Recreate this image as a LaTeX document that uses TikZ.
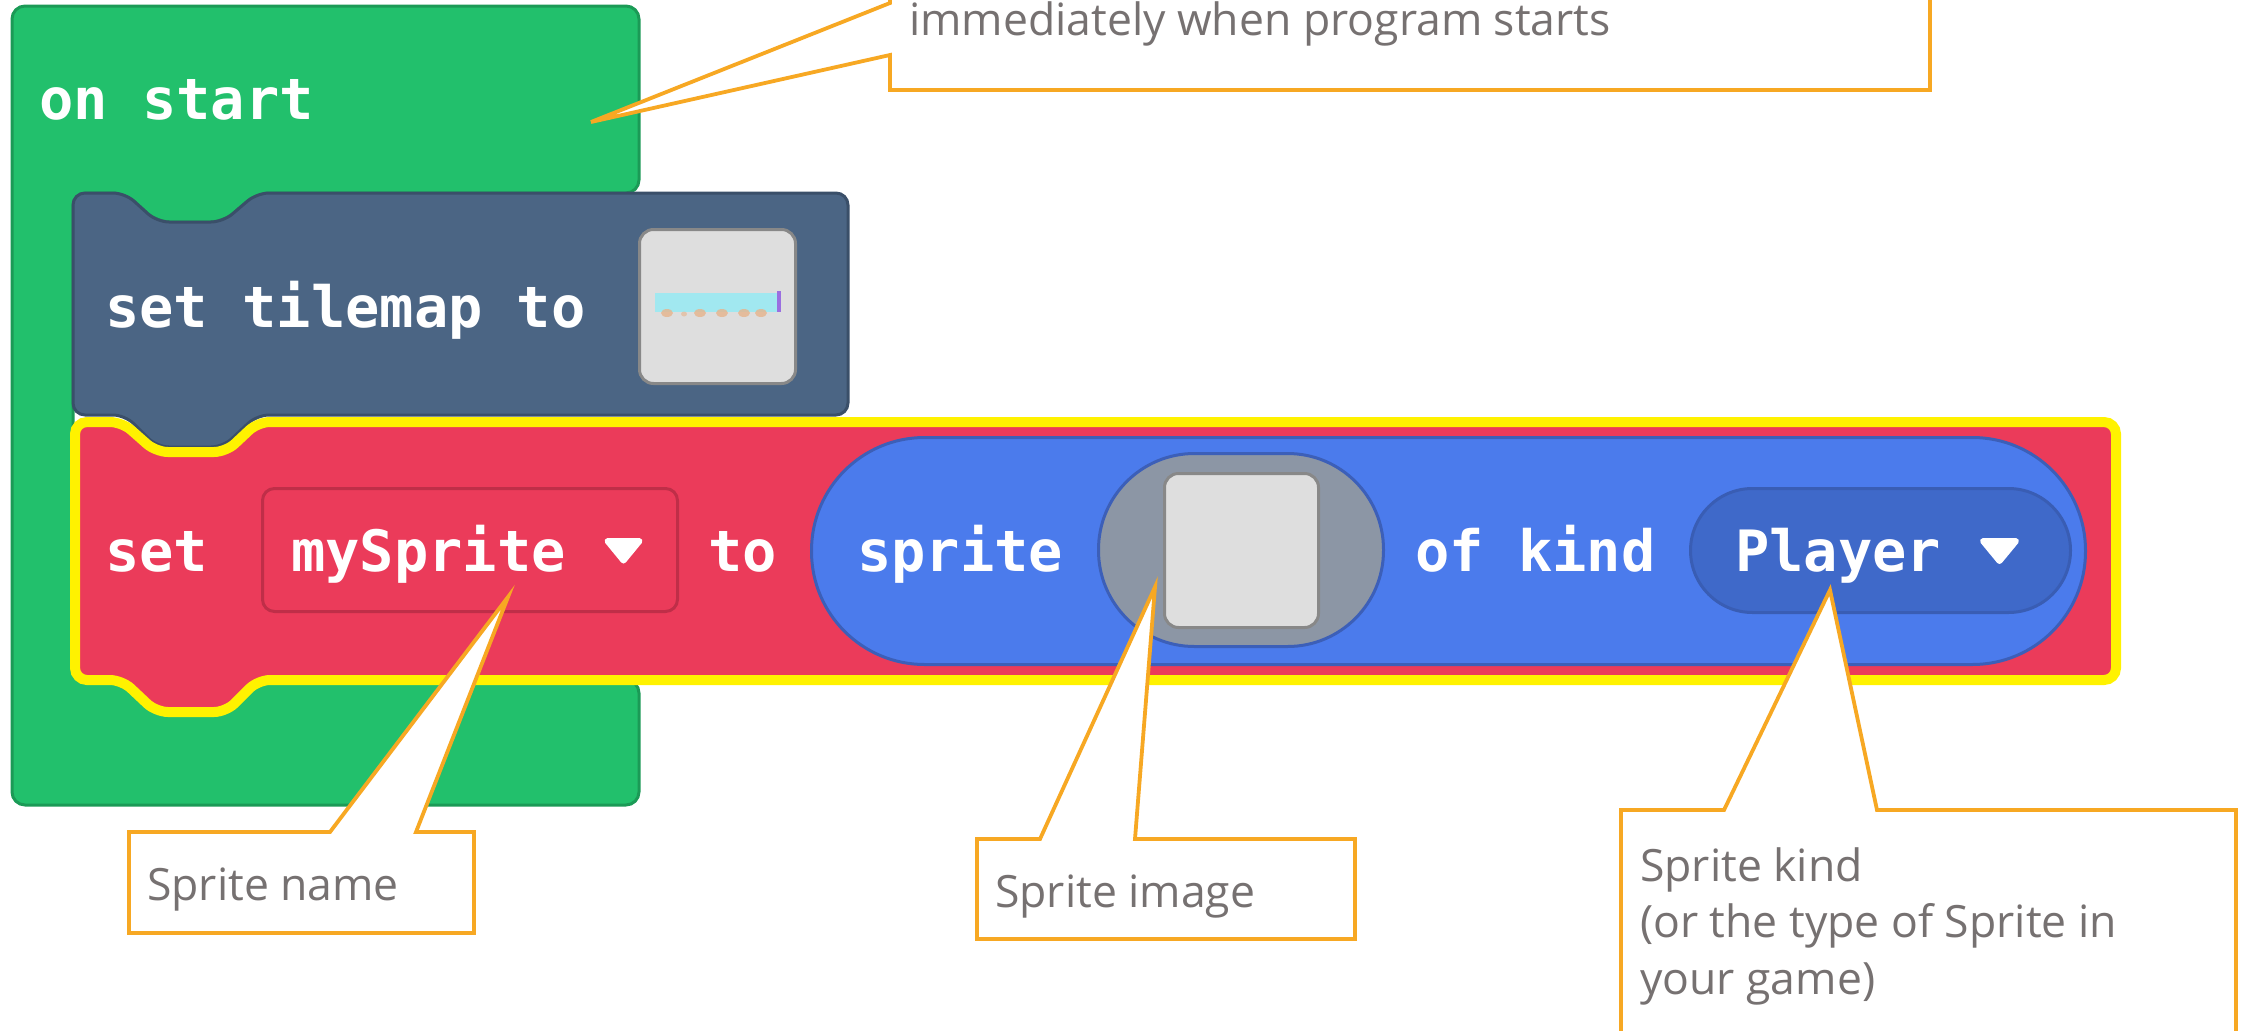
\documentclass[tikz,border=0pt]{standalone}
\usepackage{fontspec}
\setmainfont{Open Sans}
\newfontfamily\blockfont{DejaVu Sans Mono}
\newfontfamily\notefont{Open Sans}

\definecolor{startgreen}{HTML}{22C06C}
\definecolor{startgreenedge}{HTML}{1B9A56}
\definecolor{scenedark}{HTML}{4B6584}
\definecolor{scenedarkedge}{HTML}{3A4F69}
\definecolor{varred}{HTML}{EB3B5A}
\definecolor{varrededge}{HTML}{BF2E48}
\definecolor{selyellow}{HTML}{FFF200}
\definecolor{spriteblue}{HTML}{4B7BEC}
\definecolor{spriteblueedge}{HTML}{3C5FB8}
\definecolor{kindblue}{HTML}{3F69C9}
\definecolor{kindblueedge}{HTML}{395DB4}
\definecolor{ovalgray}{HTML}{8C96A5}
\definecolor{slotfill}{HTML}{DEDEDE}
\definecolor{slotedge}{HTML}{888888}
\definecolor{tilecyan}{HTML}{9BEAF3}
\definecolor{tileorange}{HTML}{E6B48C}
\definecolor{tilepurple}{HTML}{9A6FE0}
\definecolor{noteorange}{HTML}{F7A823}
\definecolor{notegray}{HTML}{767171}

\tikzset{
  greenblock/.style={fill=startgreen, draw=startgreenedge, line width=3pt, rounded corners=13pt},
  darkblock/.style={fill=scenedark, draw=scenedarkedge, line width=3pt, rounded corners=12pt},
  redblock/.style={fill=varred, draw=selyellow, line width=10pt, rounded corners=12pt},
  dropbox/.style={fill=varred, draw=varrededge, line width=3pt, rounded corners=12pt},
  spritepill/.style={fill=spriteblue, draw=spriteblueedge, line width=3pt, rounded corners=113pt},
  imageoval/.style={fill=ovalgray, draw=spriteblueedge, line width=3pt, rounded corners=96pt},
  kindpill/.style={fill=kindblue, draw=kindblueedge, line width=3pt, rounded corners=62pt},
  imageslot/.style={fill=slotfill, draw=slotedge, line width=3pt, rounded corners=14pt},
  droptri/.style={fill=white, draw=white, line width=6pt, line join=round},
  blocktext/.style={font=\blockfont\bfseries\fontsize{57}{60}\selectfont, text=white, anchor=base west, inner sep=0pt},
  notetext/.style={font=\notefont\fontsize{44.5}{56}\selectfont, text=notegray, anchor=base west, inner sep=0pt},
  callout/.style={fill=white, draw=noteorange, line width=3.8pt},
}

\begin{document}
\begin{tikzpicture}[x=1pt,y=-1pt]
\useasboundingbox (0,0) rectangle (2247,1031);
\clip (0,0) rectangle (2247,1031);

% "on start" hat block, C-shaped around its body
\draw[greenblock] (12,400) -- (12,6) -- (639,6) -- (639,193) -- (257,193) -- (223,222) -- (157,222) -- (125,193) -- (73,193)
  -- (73,680) -- (122,680) -- (156,712) -- (226,712) -- (258,680) -- (639,680) -- (639,805) -- (12,805) -- cycle;

% "set tilemap to" statement
\draw[darkblock] (73,300) -- (73,193) -- (125,193) -- (157,222) -- (223,222) -- (257,193) -- (848,193) -- (848,415)
  -- (257,415) -- (223,447) -- (157,447) -- (125,415) -- (73,415) -- cycle;
\draw[imageslot] (639.5,229.5) rectangle (795.5,383.5);
% tilemap thumbnail
\fill[tilecyan, opacity=.9] (655,293) rectangle (779,312);
\foreach \tx in {667,700,722,744,761}
  \fill[tileorange, opacity=.8] (\tx,313) ellipse [x radius=6pt, y radius=4pt];
\fill[tileorange, opacity=.6] (684,314) ellipse [x radius=3pt, y radius=2.5pt];
\fill[tilepurple] (777,291) rectangle (781,312);

% "set mySprite to" statement, selected
\draw[redblock] (75,560) -- (75,422) -- (122,422) -- (156,452) -- (226,452) -- (258,422) -- (2116,422) -- (2116,680)
  -- (258,680) -- (226,712) -- (156,712) -- (122,680) -- (75,680) -- cycle;
\draw[dropbox] (262.5,488.5) rectangle (677.5,611.5);
\draw[droptri] (607.5,541) -- (639.5,541) -- (623.5,560.5) -- cycle;

% "sprite ... of kind ..." reporter
\draw[spritepill] (811.5,437.5) rectangle (2085.5,664.5);
\draw[imageoval] (1098.5,453.5) rectangle (1383.5,646.5);
\draw[imageslot] (1164.5,473.5) rectangle (1318.5,627.5);
\draw[kindpill] (1690.5,488.5) rectangle (2070.5,612.5);
\draw[droptri] (1983,541) -- (2016,541) -- (1999.5,561) -- cycle;

% block labels
\node[blocktext] (onstart) at (39,119) {on start};
\node[blocktext] (settile) at (105,327) {set tilemap to};
\node[blocktext] (setkw) at (105,571) {set};
\node[blocktext] (varname) at (291,571) {mySprite};
\node[blocktext] (tokw) at (708,571) {to};
\node[blocktext] (spritekw) at (857,571) {sprite};
\node[blocktext] (kindkw) at (1415,571) {of kind};
\node[blocktext] (kindname) at (1735,571) {Player};

% callout pointer tips
\coordinate (tipStart) at (591,122);
\coordinate (tipName) at (508,597);
\coordinate (tipImage) at (1155,587);
\coordinate (tipKind) at (1830,590);

% callouts
\draw[callout] (890,-60) -- (890,3) -- (tipStart) -- (890,55) -- (890,90) -- (1930,90) -- (1930,-60) -- cycle;
\draw[callout] (129,832) -- (330,832) -- (tipName) -- (416,832) -- (474,832) -- (474,933) -- (129,933) -- cycle;
\draw[callout] (977,839) -- (1040,839) -- (tipImage) -- (1135,839) -- (1355,839) -- (1355,939) -- (977,939) -- cycle;
\draw[callout] (1621,810) -- (1724,810) -- (tipKind) -- (1877,810) -- (2236,810) -- (2236,1100) -- (1621,1100) -- cycle;

\node[notetext] (noteStart) at (909,35) {immediately when program starts};
\node[notetext] (noteName) at (147,900) {Sprite name};
\node[notetext] (noteImage) at (995,907) {Sprite image};
\node[notetext] (noteKindA) at (1640,881) {Sprite kind};
\node[notetext] (noteKindB) at (1640,937) {(or the type of Sprite in};
\node[notetext] (noteKindC) at (1640,994) {your game)};
\end{tikzpicture}
\end{document}
